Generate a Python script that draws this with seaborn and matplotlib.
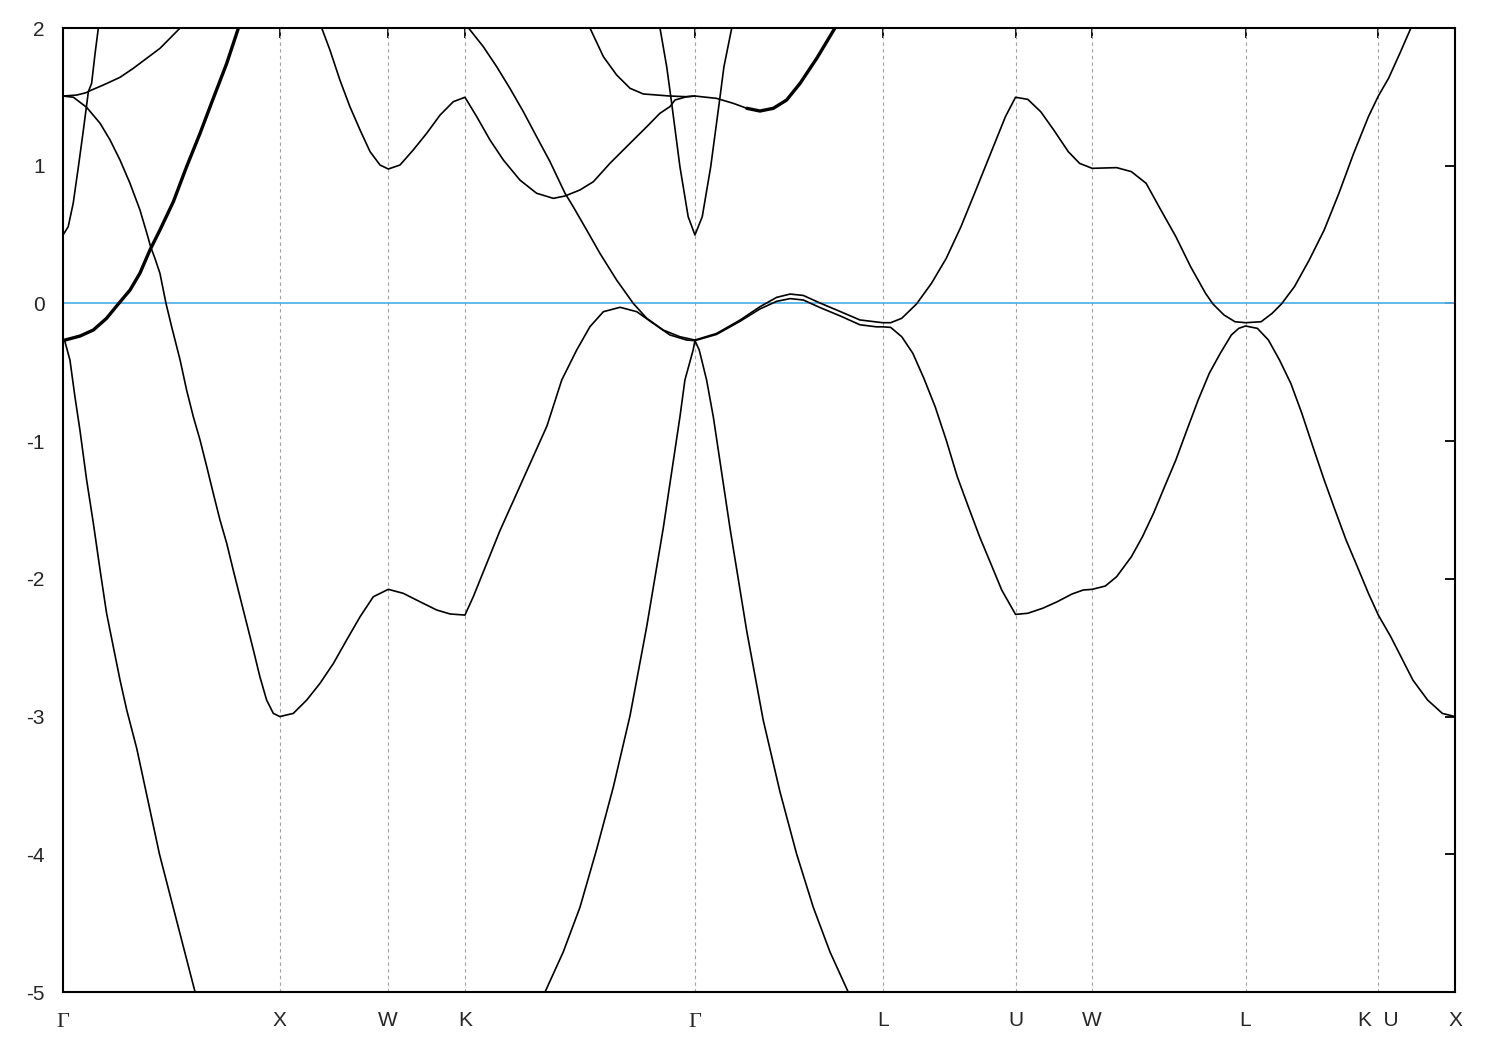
import numpy as np
import pandas as pd
import matplotlib
matplotlib.use("Agg")
import matplotlib.pyplot as plt
import matplotlib.transforms as mtransforms
import seaborn as sns

# high-symmetry points along the k-path (units of 2pi/a)
kpoint_pos = [0.0, 1.0, 1.5, 1.8536, 2.9142, 3.7802, 4.3926, 4.7462, 5.4533, 6.0657, 6.4193]
kpoint_labels = ["Γ", "X", "W", "K", "Γ", "L", "U", "W", "L", "K  U", "X"]
energy_ticks = [-5, -4, -3, -2, -1, 0, 1, 2]
fermi_level = 0.0

# Gamma-X, lowest band going down
band_a_k = [0.0, 0.009, 0.032, 0.055, 0.078, 0.109, 0.140, 0.171, 0.201, 0.232, 0.263, 0.294,
            0.340, 0.445, 0.609]
band_a_e = [-0.27, -0.278, -0.411, -0.677, -0.919, -1.282, -1.597, -1.936, -2.25, -2.493, -2.735,
            -2.953, -3.231, -4.0, -5.0]

# Gamma-X, doubled band rising from -0.27
band_c_k = [0.0, 0.009, 0.078, 0.140, 0.201, 0.255, 0.309, 0.355, 0.401, 0.447, 0.509, 0.570,
            0.632, 0.693, 0.755, 0.809]
band_c_e = [-0.27, -0.266, -0.237, -0.193, -0.108, -0.004, 0.097, 0.22, 0.388, 0.533, 0.739, 0.993,
            1.235, 1.489, 1.743, 2.0]

# Gamma(1.5) -> X -> W -> K -> Gamma
band_b_k = [0.0, 0.048, 0.109, 0.171, 0.217, 0.263, 0.309, 0.355, 0.389, 0.404, 0.424, 0.447,
            0.475, 0.501, 0.540, 0.570, 0.601, 0.632, 0.663, 0.693, 0.724, 0.755, 0.785, 0.816,
            0.847, 0.878, 0.908, 0.939, 0.970, 1.0,
            1.062, 1.124, 1.185, 1.247, 1.308, 1.370, 1.431, 1.5, 1.569, 1.646, 1.723, 1.785,
            1.8536, 1.892, 1.923,
            2.015, 2.075, 2.232, 2.30, 2.369, 2.430, 2.492, 2.569, 2.646, 2.722, 2.799, 2.876, 2.9142]
band_b_e = [1.506, 1.497, 1.424, 1.308, 1.187, 1.041, 0.872, 0.678, 0.497, 0.412, 0.327, 0.219,
            0.0, -0.169, -0.411, -0.629, -0.823, -0.992, -1.186, -1.379, -1.573, -1.742, -1.936, -2.13,
            -2.323, -2.517, -2.711, -2.88, -2.977, -3.0,
            -2.977, -2.88, -2.759, -2.614, -2.444, -2.275, -2.13, -2.076, -2.105, -2.166, -2.226, -2.255,
            -2.263, -2.13, -2.009,
            -1.65, -1.44, -0.889, -0.556, -0.338, -0.169, -0.06, -0.028, -0.06, -0.145, -0.229, -0.266, -0.27]

# Gamma-X, steep band from 0.5
band_d_k = [0.0, 0.024, 0.047, 0.071, 0.094, 0.117, 0.132, 0.148, 0.163]
band_d_e = [0.497, 0.557, 0.727, 0.993, 1.259, 1.538, 1.598, 1.816, 2.0]

# Gamma-X, flat band from 1.5
band_f_k = [0.0, 0.063, 0.106, 0.125, 0.186, 0.263, 0.324, 0.386, 0.447, 0.493, 0.540]
band_f_e = [1.506, 1.513, 1.53, 1.545, 1.586, 1.642, 1.707, 1.78, 1.852, 1.925, 2.0]

# X-W-K-Gamma upper band
band_g_k = [1.193, 1.231, 1.277, 1.323, 1.370, 1.416, 1.462, 1.5, 1.554, 1.615, 1.677, 1.739,
            1.80, 1.8536, 1.908, 1.969, 2.031, 2.107, 2.184, 2.261, 2.315, 2.384, 2.446, 2.522,
            2.615, 2.692, 2.753, 2.799, 2.822, 2.876, 2.9142]
band_g_e = [2.0, 1.84, 1.622, 1.429, 1.259, 1.102, 1.005, 0.976, 1.005, 1.114, 1.235, 1.368,
            1.465, 1.497, 1.356, 1.187, 1.041, 0.896, 0.80, 0.763, 0.78, 0.824, 0.884, 1.017,
            1.163, 1.283, 1.381, 1.429, 1.477, 1.501, 1.506]

# K-Gamma band coming down from the top
band_h_k = [1.87, 1.938, 2.0, 2.061, 2.123, 2.184, 2.246, 2.315, 2.353, 2.415, 2.476, 2.553,
            2.630, 2.692, 2.768, 2.845, 2.9142]
band_h_e = [2.0, 1.865, 1.719, 1.562, 1.392, 1.211, 1.029, 0.80, 0.702, 0.533, 0.364, 0.170,
            0.0, -0.108, -0.193, -0.242, -0.266]

# band flattening at 1.5 around Gamma
band_i_k = [2.430, 2.492, 2.553, 2.615, 2.676, 2.799, 2.876, 2.9142, 3.014, 3.091, 3.153]
band_i_e = [2.0, 1.792, 1.659, 1.562, 1.521, 1.506, 1.501, 1.506, 1.489, 1.453, 1.417]
band_i2_k = [3.153, 3.214, 3.276, 3.337, 3.399, 3.476, 3.560]
band_i2_e = [1.417, 1.397, 1.417, 1.477, 1.598, 1.78, 2.0]

# narrow V at Gamma
band_v_k = [2.753, 2.784, 2.807, 2.845, 2.883, 2.9142, 2.948, 2.987, 3.026, 3.048, 3.084]
band_v_e = [2.0, 1.719, 1.453, 0.993, 0.63, 0.497, 0.63, 0.993, 1.453, 1.719, 2.0]

# deep band peaking at Gamma
band_p_k = [2.223, 2.307, 2.384, 2.461, 2.538, 2.615, 2.692, 2.768, 2.845, 2.868, 2.906, 2.9142,
            2.934, 2.968, 2.999, 3.076, 3.153, 3.229, 3.306, 3.383, 3.460, 3.537, 3.621]
band_p_e = [-5.0, -4.709, -4.385, -3.964, -3.511, -2.993, -2.345, -1.633, -0.824, -0.556, -0.338, -0.27,
            -0.338, -0.556, -0.824, -1.633, -2.378, -3.025, -3.544, -3.997, -4.385, -4.709, -5.0]

# conduction band Gamma-L-U-W-L-K|U
band_u_k = [2.9142, 3.014, 3.122, 3.214, 3.291, 3.353, 3.414, 3.491, 3.583, 3.675, 3.7802,
            3.817, 3.868, 3.936, 4.005, 4.073, 4.141, 4.210, 4.278, 4.346, 4.3926, 4.449,
            4.509, 4.569, 4.636, 4.688, 4.7462, 4.859, 4.927, 4.995, 5.063, 5.132, 5.200,
            5.269, 5.303, 5.354, 5.405, 5.4533, 5.525, 5.576, 5.619, 5.679, 5.747, 5.816,
            5.884, 5.952, 6.020, 6.0657, 6.113, 6.165, 6.216]
band_u_e = [-0.266, -0.218, -0.121, -0.024, 0.044, 0.068, 0.058, 0.003, -0.058, -0.12, -0.14,
            -0.14, -0.108, -0.004, 0.146, 0.327, 0.557, 0.824, 1.09, 1.356, 1.497, 1.482,
            1.392, 1.259, 1.102, 1.017, 0.981, 0.986, 0.957, 0.872, 0.678, 0.485, 0.267,
            0.073, -0.004, -0.084, -0.133, -0.14, -0.133, -0.072, -0.004, 0.122, 0.315, 0.533,
            0.80, 1.09, 1.356, 1.506, 1.635, 1.816, 2.0]

# valence band Gamma-L-U-W-L-K|U-X
band_l_k = [2.9142, 3.014, 3.122, 3.214, 3.291, 3.353, 3.414, 3.491, 3.583, 3.675, 3.752, 3.7802,
            3.817, 3.868, 3.919, 3.970, 4.022, 4.073, 4.124, 4.175, 4.227, 4.278, 4.329, 4.3926,
            4.449, 4.517, 4.585, 4.653, 4.705, 4.7462, 4.807, 4.859, 4.927, 4.978, 5.029, 5.080,
            5.132, 5.183, 5.235, 5.286, 5.337, 5.388, 5.422, 5.4533, 5.508, 5.559, 5.610, 5.662,
            5.713, 5.764, 5.816, 5.866, 5.917, 5.969, 6.020, 6.0657, 6.123, 6.174, 6.225, 6.293,
            6.361, 6.4193]
band_l_e = [-0.27, -0.225, -0.13, -0.04, 0.015, 0.035, 0.025, -0.03, -0.09, -0.155, -0.17, -0.17,
            -0.174, -0.242, -0.362, -0.544, -0.75, -0.992, -1.258, -1.476, -1.694, -1.887, -2.081, -2.258,
            -2.25, -2.214, -2.166, -2.11, -2.081, -2.076, -2.052, -1.984, -1.839, -1.694, -1.524, -1.331,
            -1.137, -0.919, -0.701, -0.508, -0.362, -0.229, -0.181, -0.164, -0.181, -0.266, -0.411, -0.58,
            -0.798, -1.04, -1.282, -1.50, -1.718, -1.912, -2.105, -2.263, -2.42, -2.577, -2.735, -2.88,
            -2.977, -3.0]


def band_frame(bands):
    rows = []
    for name, ks, es in bands:
        for k, e in zip(ks, es):
            rows.append({"band": name, "k": k, "E": e})
    return pd.DataFrame(rows)


def main():
    sns.set_style("white")
    plt.rcParams["font.family"] = ["Liberation Sans", "DejaVu Sans"]
    plt.rcParams["axes.unicode_minus"] = False

    thin = band_frame([
        ("a", band_a_k, band_a_e),
        ("b", band_b_k, band_b_e),
        ("d", band_d_k, band_d_e),
        ("f", band_f_k, band_f_e),
        ("g", band_g_k, band_g_e),
        ("h", band_h_k, band_h_e),
        ("i", band_i_k, band_i_e),
        ("v", band_v_k, band_v_e),
        ("p", band_p_k, band_p_e),
        ("u", band_u_k, band_u_e),
        ("l", band_l_k, band_l_e),
    ])
    thick = band_frame([
        ("c", band_c_k, band_c_e),
        ("i2", band_i2_k, band_i2_e),
    ])

    fig = plt.figure(figsize=(15, 10.5), dpi=100)
    ax = fig.add_axes([63 / 1500, 1 - 992 / 1050, (1455 - 63) / 1500, (992 - 28) / 1050])

    for x in kpoint_pos[1:-1]:
        ax.axvline(x, color="#a0a0a0", lw=0.8, ls=(0, (3, 3)), zorder=1)
    ax.axhline(fermi_level, color="#56b4e9", lw=1.3, zorder=2)

    sns.lineplot(data=thin, x="k", y="E", units="band", estimator=None, sort=False,
                 color="black", linewidth=1.2, ax=ax, zorder=3, legend=False)
    sns.lineplot(data=thick, x="k", y="E", units="band", estimator=None, sort=False,
                 color="black", linewidth=2.4, ax=ax, zorder=3, legend=False)

    ax.set_xlim(kpoint_pos[0], kpoint_pos[-1])
    ax.set_ylim(-5, 2)
    ax.set_xticks(kpoint_pos)
    ax.set_xticklabels(kpoint_labels)
    ax.set_yticks(energy_ticks)
    ax.set_yticklabels([str(v) for v in energy_ticks])
    ax.set_xlabel("")
    ax.set_ylabel("")

    ax.tick_params(axis="both", direction="in", length=7, width=1.3, labelsize=15,
                   top=True, right=True, color="black")
    ax.tick_params(axis="y", pad=13)
    ax.tick_params(axis="x", pad=14)
    shift = mtransforms.ScaledTranslation(0, -1.2 / 72, fig.dpi_scale_trans)
    for lab in ax.get_xticklabels():
        if lab.get_text() == "Γ":
            lab.set_fontfamily(["Liberation Serif", "DejaVu Serif"])
            lab.set_fontsize(16)
            lab.set_transform(lab.get_transform() + shift)

    for sp in ax.spines.values():
        sp.set_visible(True)
        sp.set_color("black")
        sp.set_linewidth(1.5)

    fig.savefig("out.png", dpi=100, facecolor="white")


if __name__ == "__main__":
    main()
